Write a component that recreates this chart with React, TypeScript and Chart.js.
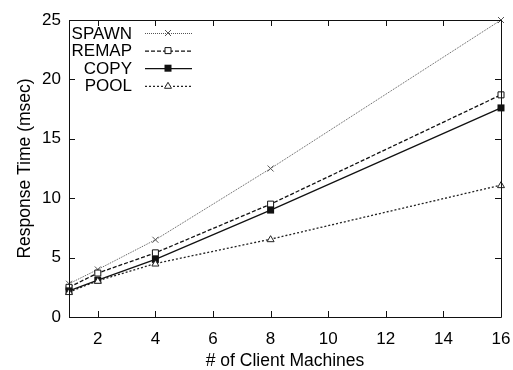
import React, { useEffect, useRef } from "react";
import { Chart, registerables } from "chart.js";

Chart.register(...registerables);

const machines = [1, 2, 4, 8, 16];
const xTickValues = [2, 4, 6, 8, 10, 12, 14, 16];
const yTickValues = [0, 5, 10, 15, 20, 25];

const spawn = [2.8, 4.0, 6.5, 12.5, 25.0];
const remap = [2.5, 3.7, 5.4, 9.5, 18.7];
const copy = [2.2, 3.1, 4.85, 9.0, 17.6];
const pool = [2.1, 3.05, 4.5, 6.55, 11.1];

const seriesLabels = ["SPAWN", "REMAP", "COPY", "POOL"];

const FONT = "'Liberation Sans', Arial, Helvetica, sans-serif";

function drawMarker(ctx: CanvasRenderingContext2D, style: string, x: number, y: number, color: string) {
  ctx.save();
  ctx.strokeStyle = color;
  ctx.fillStyle = color;
  ctx.lineWidth = 1;
  ctx.setLineDash([]);
  ctx.beginPath();
  if (style === "crossRot") {
    const r = 3;
    ctx.moveTo(x - r, y - r);
    ctx.lineTo(x + r, y + r);
    ctx.moveTo(x + r, y - r);
    ctx.lineTo(x - r, y + r);
    ctx.stroke();
  } else if (style === "rectOpen") {
    ctx.fillStyle = "#fff";
    ctx.rect(x - 3, y - 3, 6, 6);
    ctx.fill();
    ctx.stroke();
  } else if (style === "rectFilled") {
    ctx.rect(x - 3.5, y - 3.5, 7, 7);
    ctx.fill();
  } else if (style === "triangle") {
    ctx.fillStyle = "#fff";
    ctx.moveTo(x, y - 3.5);
    ctx.lineTo(x + 3.5, y + 2.5);
    ctx.lineTo(x - 3.5, y + 2.5);
    ctx.closePath();
    ctx.fill();
    ctx.stroke();
  }
  ctx.restore();
}

const markerKinds = ["crossRot", "rectOpen", "rectFilled", "triangle"];

const framePlugin = {
  id: "gnuplotFrame",
  afterDraw(chart: any) {
    const { ctx, chartArea, scales } = chart;
    const { left, right, top, bottom } = chartArea;
    ctx.save();
    ctx.strokeStyle = "#111";
    ctx.lineWidth = 1;
    ctx.setLineDash([]);
    ctx.beginPath();
    ctx.rect(left + 0.5, top + 0.5, right - left, bottom - top);
    ctx.stroke();
    const tl = 6;
    ctx.beginPath();
    xTickValues.forEach((v) => {
      const px = Math.round(scales.x.getPixelForValue(v)) + 0.5;
      ctx.moveTo(px, bottom);
      ctx.lineTo(px, bottom - tl);
      ctx.moveTo(px, top);
      ctx.lineTo(px, top + tl);
    });
    yTickValues.forEach((v) => {
      const py = Math.round(scales.y.getPixelForValue(v)) + 0.5;
      ctx.moveTo(left, py);
      ctx.lineTo(left + tl, py);
      ctx.moveTo(right, py);
      ctx.lineTo(right - tl, py);
    });
    ctx.stroke();
    ctx.restore();
  },
};

const legendPlugin = {
  id: "gnuplotLegend",
  afterDatasetsDraw(chart: any) {
    const { ctx, chartArea } = chart;
    const { left, top } = chartArea;
    ctx.save();
    ctx.font = `17px ${FONT}`;
    ctx.textAlign = "right";
    ctx.textBaseline = "middle";
    chart.data.datasets.forEach((ds: any, i: number) => {
      const y = top + 13 + i * 17.6;
      ctx.fillStyle = "#000";
      ctx.fillText(ds.label, left + 63, y + 1);
      ctx.strokeStyle = ds.borderColor;
      ctx.lineWidth = ds.borderWidth;
      ctx.setLineDash(ds.borderDash || []);
      ctx.beginPath();
      ctx.moveTo(left + 76, y + 0.5);
      ctx.lineTo(left + 123, y + 0.5);
      ctx.stroke();
      drawMarker(ctx, markerKinds[i], left + 99, y, ds.borderColor);
    });
    ctx.restore();
  },
};

const markersPlugin = {
  id: "gnuplotMarkers",
  afterDatasetsDraw(chart: any) {
    const { ctx } = chart;
    chart.data.datasets.forEach((ds: any, i: number) => {
      const meta = chart.getDatasetMeta(i);
      meta.data.forEach((pt: any) => {
        drawMarker(ctx, markerKinds[i], pt.x, pt.y, ds.borderColor);
      });
    });
  },
};

export default function App() {
  const canvasRef = useRef<HTMLCanvasElement | null>(null);

  useEffect(() => {
    document.body.style.margin = "0";
    const canvas = canvasRef.current;
    if (!canvas) return;
    const mk = (vals: number[]) => machines.map((m, i) => ({ x: m, y: vals[i] }));
    const chart = new Chart(canvas, {
      type: "line",
      data: {
        datasets: [
          {
            label: seriesLabels[0],
            data: mk(spawn),
            borderColor: "#555",
            borderWidth: 1,
            borderDash: [1, 1],
            pointRadius: 0,
            fill: false,
          },
          {
            label: seriesLabels[1],
            data: mk(remap),
            borderColor: "#111",
            borderWidth: 1.3,
            borderDash: [4, 2],
            pointRadius: 0,
            fill: false,
          },
          {
            label: seriesLabels[2],
            data: mk(copy),
            borderColor: "#111",
            borderWidth: 1.3,
            borderDash: [],
            pointRadius: 0,
            fill: false,
          },
          {
            label: seriesLabels[3],
            data: mk(pool),
            borderColor: "#222",
            borderWidth: 1.3,
            borderDash: [2, 2],
            pointRadius: 0,
            fill: false,
          },
        ],
      },
      options: {
        animation: false,
        responsive: true,
        maintainAspectRatio: false,
        clip: false as any,
        layout: { padding: { top: 20, right: 12, left: 0, bottom: 0 } },
        plugins: {
          legend: { display: false },
          tooltip: { enabled: false },
        },
        scales: {
          x: {
            type: "linear",
            min: 1,
            max: 16,
            afterBuildTicks: (scale: any) => {
              scale.ticks = xTickValues.map((v) => ({ value: v }));
            },
            afterFit: (scale: any) => {
              scale.height = 53;
              scale.paddingLeft = 0;
              scale.paddingRight = 0;
            },
            grid: { display: false, drawTicks: false },
            border: { display: false },
            ticks: {
              color: "#000",
              font: { family: FONT, size: 17 },
              padding: 12,
              maxRotation: 0,
              autoSkip: false,
            },
            title: {
              display: true,
              text: "# of Client Machines",
              color: "#000",
              font: { family: FONT, size: 17.5 },
              padding: { top: 2, bottom: -2 },
            },
          },
          y: {
            type: "linear",
            min: 0,
            max: 25,
            afterBuildTicks: (scale: any) => {
              scale.ticks = yTickValues.map((v) => ({ value: v }));
            },
            afterFit: (scale: any) => {
              scale.width = 69;
              scale.paddingTop = 0;
              scale.paddingBottom = 0;
            },
            grid: { display: false, drawTicks: false },
            border: { display: false },
            ticks: {
              color: "#000",
              font: { family: FONT, size: 17 },
              padding: 8,
              autoSkip: false,
            },
            title: {
              display: true,
              text: "Response Time (msec)",
              color: "#000",
              font: { family: FONT, size: 17.5 },
              padding: { top: 15, bottom: 0 },
            },
          },
        },
      },
      plugins: [framePlugin, markersPlugin, legendPlugin],
    });
    return () => chart.destroy();
  }, []);

  return (
    <div style={{ position: "fixed", left: 0, top: 0, width: 513, height: 370, background: "#fff" }}>
      <canvas ref={canvasRef} />
    </div>
  );
}
